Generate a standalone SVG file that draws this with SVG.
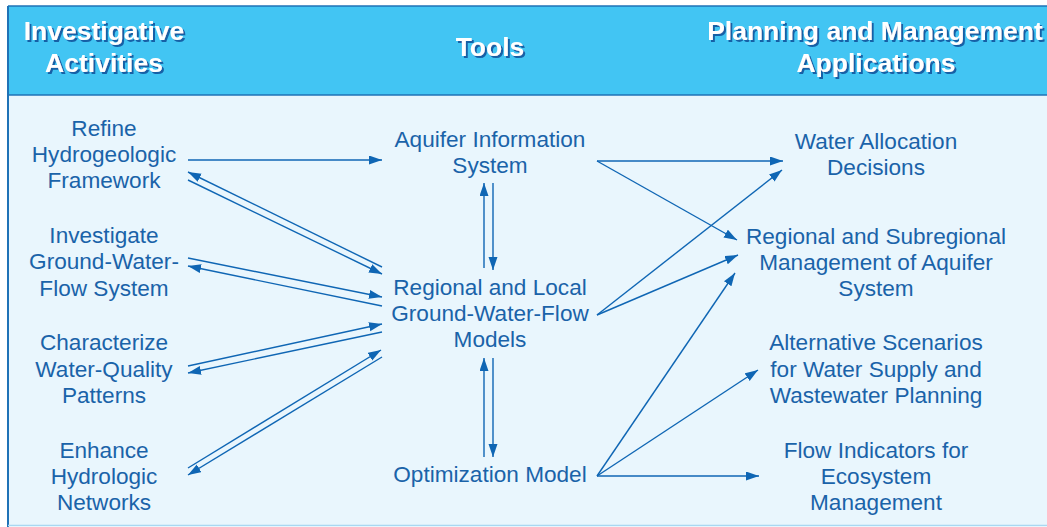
<svg xmlns="http://www.w3.org/2000/svg" width="1047" height="527" viewBox="0 0 1047 527">
  <defs>
    <style>
      .hdr { font-family: "Liberation Sans", Arial, sans-serif; font-weight: bold; font-size: 26.5px; fill: #ffffff; text-anchor: middle; filter: url(#shadow); }
      .lbl { font-family: "Liberation Sans", Arial, sans-serif; font-size: 22.6px; fill: #1a63a9; text-anchor: middle; }
      .conn { stroke: #0f66b4; stroke-width: 1.4; fill: none; marker-end: url(#arrow); }
    </style>
    <filter id="shadow" x="-5%" y="-20%" width="110%" height="140%">
      <feFlood flood-color="#1560a6" result="c"/>
      <feOffset in="SourceAlpha" dx="1.5" dy="1.5" result="o"/>
      <feComposite in="c" in2="o" operator="in" result="s"/>
      <feMerge>
        <feMergeNode in="s"/>
        <feMergeNode in="SourceGraphic"/>
      </feMerge>
    </filter>
    <marker id="arrow" markerUnits="userSpaceOnUse" markerWidth="14" markerHeight="10" refX="13" refY="4.5" orient="auto">
      <path d="M0,0 L13,4.5 L0,9 z" fill="#0f66b4"/>
    </marker>
  </defs>

  <!-- frame: header band and body panel -->
  <rect x="0" y="0" width="1047" height="527" fill="#ffffff"/>
  <rect x="8" y="6" width="1039" height="520" fill="#e9f6fd"/>
  <rect x="8" y="6" width="1039" height="89" fill="#42c5f3"/>
  <line x1="8" y1="95" x2="1047" y2="95" stroke="#1f72b6" stroke-width="1.5"/>
  <line x1="8" y1="6" x2="1047" y2="6" stroke="#1f72b6" stroke-width="1.5"/>
  <line x1="8" y1="6" x2="8" y2="527" stroke="#1f72b6" stroke-width="2"/>
  <line x1="8" y1="525.5" x2="1047" y2="525.5" stroke="#a9d8f2" stroke-width="1.5"/>

  <!-- column headings -->
  <g id="heading-activities">
    <text class="hdr" x="104" y="40">Investigative</text>
    <text class="hdr" x="104" y="72">Activities</text>
  </g>
  <g id="heading-tools">
    <text class="hdr" x="490" y="56">Tools</text>
  </g>
  <g id="heading-applications">
    <text class="hdr" x="875" y="40">Planning and Management</text>
    <text class="hdr" x="876" y="72">Applications</text>
  </g>

  <!-- investigative activities -->
  <g id="refine-framework">
    <text class="lbl" x="104" y="136">Refine</text>
    <text class="lbl" x="104" y="162">Hydrogeologic</text>
    <text class="lbl" x="104" y="188">Framework</text>
  </g>
  <g id="investigate-flow">
    <text class="lbl" x="104" y="243">Investigate</text>
    <text class="lbl" x="104" y="269">Ground-Water-</text>
    <text class="lbl" x="104" y="296">Flow System</text>
  </g>
  <g id="characterize-quality">
    <text class="lbl" x="104" y="350">Characterize</text>
    <text class="lbl" x="104" y="377">Water-Quality</text>
    <text class="lbl" x="104" y="403">Patterns</text>
  </g>
  <g id="enhance-networks">
    <text class="lbl" x="104" y="458">Enhance</text>
    <text class="lbl" x="104" y="484">Hydrologic</text>
    <text class="lbl" x="104" y="510">Networks</text>
  </g>

  <!-- tools -->
  <g id="aquifer-info-system">
    <text class="lbl" x="490" y="147">Aquifer Information</text>
    <text class="lbl" x="490" y="173">System</text>
  </g>
  <g id="flow-models">
    <text class="lbl" x="490" y="295">Regional and Local</text>
    <text class="lbl" x="490" y="321">Ground-Water-Flow</text>
    <text class="lbl" x="490" y="347">Models</text>
  </g>
  <g id="optimization-model">
    <text class="lbl" x="490" y="482">Optimization Model</text>
  </g>

  <!-- planning and management applications -->
  <g id="water-allocation">
    <text class="lbl" x="876" y="149">Water Allocation</text>
    <text class="lbl" x="876" y="175">Decisions</text>
  </g>
  <g id="aquifer-management">
    <text class="lbl" x="876" y="244">Regional and Subregional</text>
    <text class="lbl" x="876" y="270">Management of Aquifer</text>
    <text class="lbl" x="876" y="296">System</text>
  </g>
  <g id="alternative-scenarios">
    <text class="lbl" x="876" y="350">Alternative Scenarios</text>
    <text class="lbl" x="876" y="377">for Water Supply and</text>
    <text class="lbl" x="876" y="403">Wastewater Planning</text>
  </g>
  <g id="flow-indicators">
    <text class="lbl" x="876" y="458">Flow Indicators for</text>
    <text class="lbl" x="876" y="484">Ecosystem</text>
    <text class="lbl" x="876" y="510">Management</text>
  </g>

  <!-- connectors -->
  <g id="connectors">
    <!-- activities to/from tools -->
    <line class="conn" x1="188" y1="160" x2="382" y2="160"/>
    <line class="conn" x1="382" y1="267" x2="188" y2="172"/>
    <line class="conn" x1="188" y1="180" x2="382" y2="274"/>
    <line class="conn" x1="188" y1="258" x2="382" y2="297"/>
    <line class="conn" x1="382" y1="306" x2="188" y2="266"/>
    <line class="conn" x1="188" y1="366" x2="382" y2="324"/>
    <line class="conn" x1="382" y1="332" x2="188" y2="373"/>
    <line class="conn" x1="188" y1="468" x2="381" y2="350"/>
    <line class="conn" x1="382" y1="357" x2="188" y2="475"/>
    <!-- between tools -->
    <line class="conn" x1="484" y1="268" x2="484" y2="183"/>
    <line class="conn" x1="493" y1="183" x2="493" y2="270"/>
    <line class="conn" x1="484" y1="457" x2="484" y2="358"/>
    <line class="conn" x1="493" y1="358" x2="493" y2="457"/>
    <!-- tools to applications -->
    <line class="conn" x1="597" y1="161" x2="783" y2="161"/>
    <line class="conn" x1="597" y1="161" x2="737" y2="240"/>
    <line class="conn" x1="597" y1="315" x2="782" y2="170"/>
    <line class="conn" x1="597" y1="315" x2="738" y2="255"/>
    <line class="conn" x1="597" y1="476" x2="735" y2="273"/>
    <line class="conn" x1="597" y1="476" x2="758" y2="370"/>
    <line class="conn" x1="597" y1="476" x2="759" y2="476"/>
  </g>
</svg>
